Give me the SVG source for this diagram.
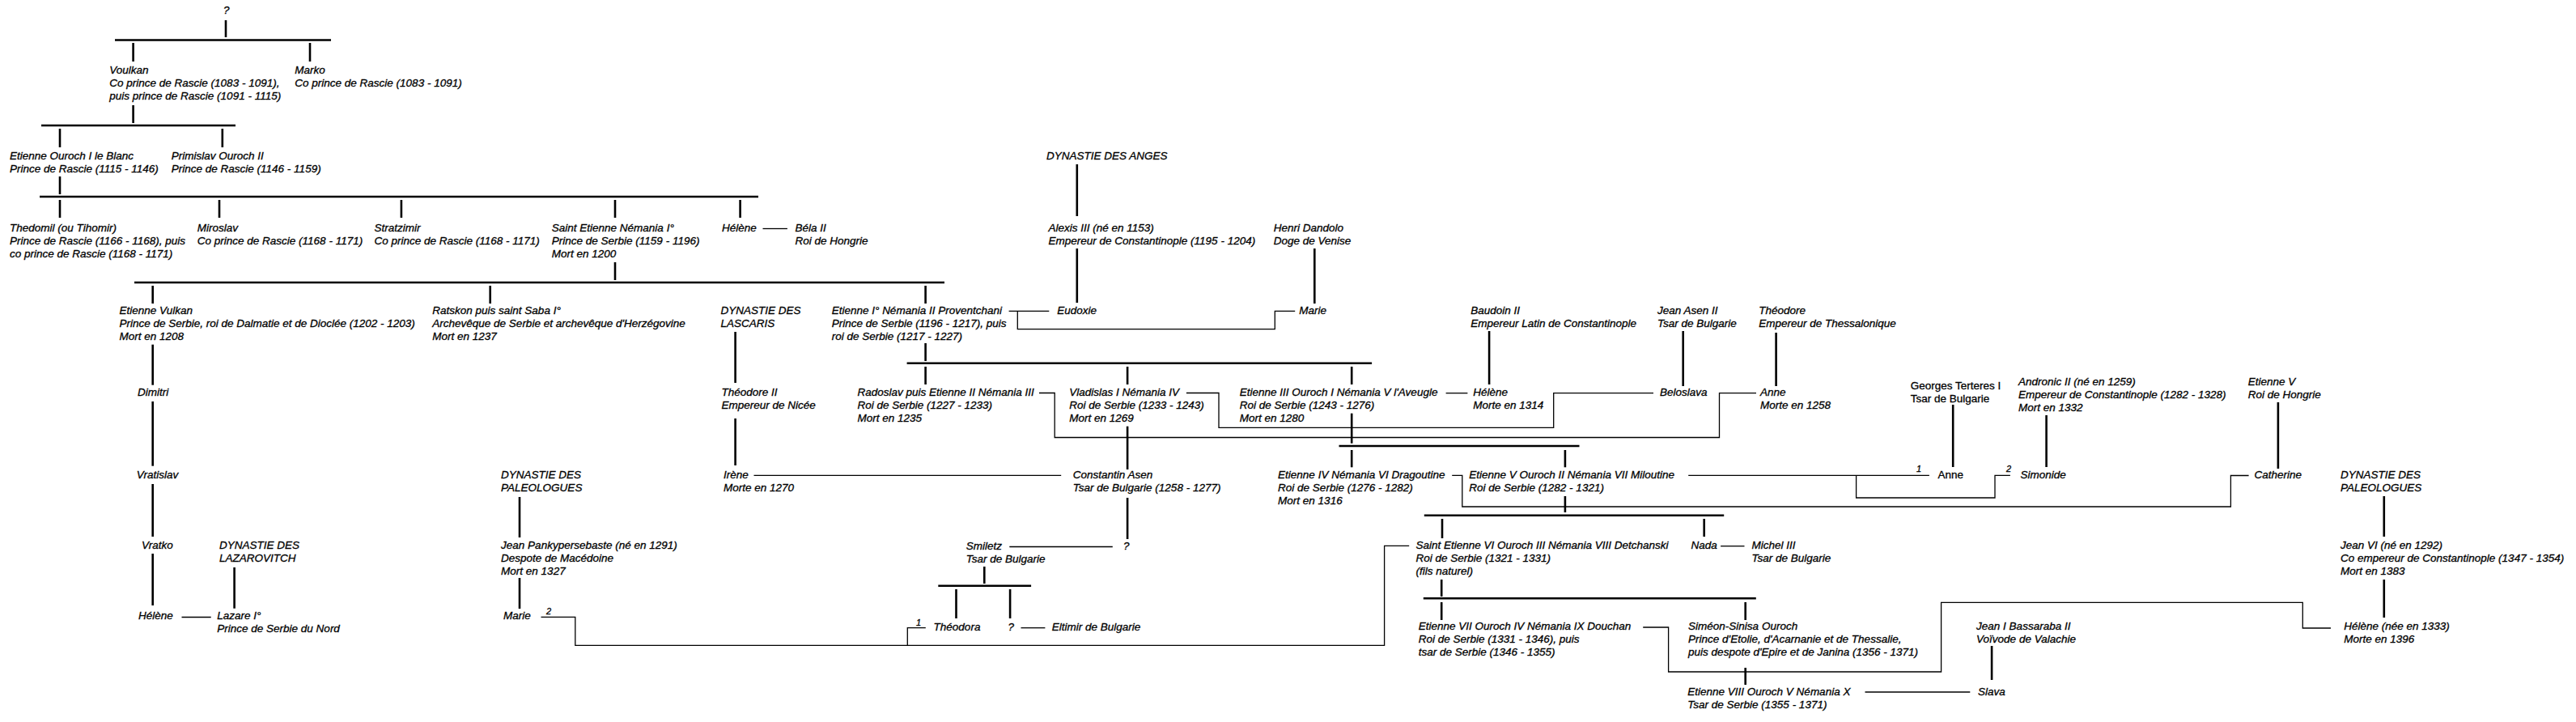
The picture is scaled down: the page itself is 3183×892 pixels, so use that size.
<svg xmlns="http://www.w3.org/2000/svg" width="3183" height="892" viewBox="0 0 3183 892">
<style>
text{font-family:"Liberation Sans",Arial,sans-serif;font-size:13.5px;font-style:italic;fill:#000;stroke:#000;stroke-width:0.3}
text.u{font-style:normal}
text.s{font-size:11px}
.tree line{stroke:#000;stroke-width:2.6}
.mar path,.mar line{stroke:#000;stroke-width:1.3;fill:none}
</style>
<rect width="3183" height="892" fill="#fff"/>
<g id="connectors">
<g class="tree">
<line x1="279" y1="25" x2="279" y2="46"/>
<line x1="142" y1="49.5" x2="409" y2="49.5"/>
<line x1="164.6" y1="53" x2="164.6" y2="76"/>
<line x1="383" y1="53" x2="383" y2="76"/>
<line x1="164.6" y1="130" x2="164.6" y2="152"/>
<line x1="51" y1="155" x2="291" y2="155"/>
<line x1="74" y1="159" x2="74" y2="182"/>
<line x1="274.8" y1="159" x2="274.8" y2="182"/>
<line x1="74" y1="218" x2="74" y2="240"/>
<line x1="49" y1="243" x2="937" y2="243"/>
<line x1="74" y1="247" x2="74" y2="269"/>
<line x1="271" y1="247" x2="271" y2="269"/>
<line x1="495.9" y1="247" x2="495.9" y2="269"/>
<line x1="760" y1="247" x2="760" y2="269"/>
<line x1="914.6" y1="247" x2="914.6" y2="269"/>
<line x1="760" y1="324" x2="760" y2="346"/>
<line x1="166" y1="349" x2="1167" y2="349"/>
<line x1="188.7" y1="353" x2="188.7" y2="375"/>
<line x1="605.7" y1="353" x2="605.7" y2="375"/>
<line x1="1143.6" y1="353" x2="1143.6" y2="375"/>
<line x1="1330.8" y1="203" x2="1330.8" y2="267"/>
<line x1="1330.8" y1="307" x2="1330.8" y2="374"/>
<line x1="1624.3" y1="307" x2="1624.3" y2="375"/>
<line x1="1143.6" y1="424" x2="1143.6" y2="446"/>
<line x1="1120.6" y1="448.7" x2="1695.1" y2="448.7"/>
<line x1="1143.6" y1="453" x2="1143.6" y2="475"/>
<line x1="1393.1" y1="453" x2="1393.1" y2="475"/>
<line x1="1670.2" y1="453" x2="1670.2" y2="475"/>
<line x1="1840.1" y1="409" x2="1840.1" y2="475"/>
<line x1="2079.7" y1="409" x2="2079.7" y2="477"/>
<line x1="2194.6" y1="411" x2="2194.6" y2="477"/>
<line x1="908.6" y1="410" x2="908.6" y2="473"/>
<line x1="908.6" y1="517" x2="908.6" y2="575"/>
<line x1="1393.1" y1="526.7" x2="1393.1" y2="580"/>
<line x1="1393.1" y1="615" x2="1393.1" y2="666"/>
<line x1="1670.2" y1="510.7" x2="1670.2" y2="547.7"/>
<line x1="1654.5" y1="551" x2="1951.5" y2="551"/>
<line x1="1670.2" y1="556" x2="1670.2" y2="577.3"/>
<line x1="1933.9" y1="556" x2="1933.9" y2="577.3"/>
<line x1="2413.2" y1="500" x2="2413.2" y2="577"/>
<line x1="2528.6" y1="513" x2="2528.6" y2="577"/>
<line x1="2814.9" y1="497" x2="2814.9" y2="579"/>
<line x1="2945.8" y1="613" x2="2945.8" y2="663"/>
<line x1="2945.8" y1="716" x2="2945.8" y2="763"/>
<line x1="1933.9" y1="613" x2="1933.9" y2="633"/>
<line x1="1759.8" y1="636.7" x2="2130.2" y2="636.7"/>
<line x1="1782" y1="641" x2="1782" y2="665"/>
<line x1="2105.7" y1="641" x2="2105.7" y2="663"/>
<line x1="1781.2" y1="716" x2="1781.2" y2="737"/>
<line x1="1758.8" y1="739.3" x2="2169.8" y2="739.3"/>
<line x1="1781.2" y1="744" x2="1781.2" y2="766"/>
<line x1="2156.7" y1="744" x2="2156.7" y2="766"/>
<line x1="2156.7" y1="825" x2="2156.7" y2="846"/>
<line x1="2461.1" y1="798" x2="2461.1" y2="840"/>
<line x1="642" y1="614" x2="642" y2="664"/>
<line x1="642" y1="714" x2="642" y2="752"/>
<line x1="1216.3" y1="700" x2="1216.3" y2="721"/>
<line x1="1159.3" y1="723.7" x2="1274.1" y2="723.7"/>
<line x1="1181.5" y1="728" x2="1181.5" y2="764"/>
<line x1="1248.1" y1="728" x2="1248.1" y2="764"/>
<line x1="188.7" y1="425.7" x2="188.7" y2="475.7"/>
<line x1="188.7" y1="496" x2="188.7" y2="575.7"/>
<line x1="188.7" y1="598" x2="188.7" y2="663"/>
<line x1="188.7" y1="684" x2="188.7" y2="748"/>
<line x1="289.6" y1="701" x2="289.6" y2="751.7"/>
</g>
<g class="mar">
<line x1="942.5" y1="282.5" x2="972.9" y2="282.5"/>
<line x1="1246.6" y1="384.3" x2="1296.3" y2="384.3"/>
<path d="M1257.3 384.3V406.7H1575.3V384.3H1600.2"/>
<line x1="1786.6" y1="485.7" x2="1813.4" y2="485.7"/>
<path d="M1465.9 485.5H1506V528.3H1919.7V485.7H2043"/>
<path d="M1284 485.5H1303.2V540.5H2124.5V485.7H2170"/>
<line x1="931.5" y1="587.3" x2="1311.2" y2="587.3"/>
<line x1="1247.3" y1="675.5" x2="1374.8" y2="675.5"/>
<path d="M1794.2 587.3H1806.8V626H2756.4V587.5H2778.6"/>
<line x1="2086.2" y1="587.3" x2="2383.9" y2="587.3"/>
<path d="M2293.6 587.3V615H2465V587.3H2483.9"/>
<line x1="2126.1" y1="674.7" x2="2155.5" y2="674.7"/>
<path d="M2030.2 775H2061.6V830H2398.6V744.3H2845.3V776H2880"/>
<line x1="2304.5" y1="855" x2="2434.3" y2="855"/>
<path d="M668.5 762.3H710.8V797.3H1710.6V674.3H1741.2"/>
<path d="M1121.3 797.3V775.7H1143.8"/>
<line x1="1261.5" y1="775.7" x2="1291.4" y2="775.7"/>
<line x1="224.5" y1="762.5" x2="260.7" y2="762.5"/>
</g>
<text class="s" x="2368" y="583">1</text>
<text class="s" x="2479" y="583">2</text>
<text class="s" x="675" y="759">2</text>
<text class="s" x="1132" y="772.5">1</text>
</g>
<g id="n_root"><text x="276" y="17">?</text></g>
<g id="n_voulkan"><text x="135.3" y="91">Voulkan<tspan x="135.3" dy="16">Co prince de Rascie (1083 - 1091),</tspan><tspan x="135.3" dy="16">puis prince de Rascie (1091 - 1115)</tspan></text></g>
<g id="n_marko"><text x="364.3" y="91">Marko<tspan x="364.3" dy="16">Co prince de Rascie (1083 - 1091)</tspan></text></g>
<g id="n_etienne_ouroch1"><text x="12" y="197">Etienne Ouroch I le Blanc<tspan x="12" dy="16">Prince de Rascie (1115 - 1146)</tspan></text></g>
<g id="n_primislav"><text x="211.8" y="197">Primislav Ouroch II<tspan x="211.8" dy="16">Prince de Rascie (1146 - 1159)</tspan></text></g>
<g id="n_thedomil"><text x="12" y="286">Thedomil (ou Tihomir)<tspan x="12" dy="16">Prince de Rascie (1166 - 1168), puis</tspan><tspan x="12" dy="16">co prince de Rascie (1168 - 1171)</tspan></text></g>
<g id="n_miroslav"><text x="243.8" y="286">Miroslav<tspan x="243.8" dy="16">Co prince de Rascie (1168 - 1171)</tspan></text></g>
<g id="n_stratzimir"><text x="462.5" y="286">Stratzimir<tspan x="462.5" dy="16">Co prince de Rascie (1168 - 1171)</tspan></text></g>
<g id="n_saint_etienne"><text x="681.8" y="286">Saint Etienne Némania I°<tspan x="681.8" dy="16">Prince de Serbie (1159 - 1196)</tspan><tspan x="681.8" dy="16">Mort en 1200</tspan></text></g>
<g id="n_helene1"><text x="892" y="286">Hélène</text></g>
<g id="n_bela"><text x="982.5" y="286">Béla II<tspan x="982.5" dy="16">Roi de Hongrie</tspan></text></g>
<g id="n_anges"><text x="1292.9" y="197">DYNASTIE DES ANGES</text></g>
<g id="n_alexis"><text x="1295.5" y="286">Alexis III (né en 1153)<tspan x="1295.5" dy="16">Empereur de Constantinople (1195 - 1204)</tspan></text></g>
<g id="n_dandolo"><text x="1573.8" y="286">Henri Dandolo<tspan x="1573.8" dy="16">Doge de Venise</tspan></text></g>
<g id="n_vulkan"><text x="147.4" y="388">Etienne Vulkan<tspan x="147.4" dy="16">Prince de Serbie, roi de Dalmatie et de Dioclée (1202 - 1203)</tspan><tspan x="147.4" dy="16">Mort en 1208</tspan></text></g>
<g id="n_ratskon"><text x="534.3" y="388">Ratskon puis saint Saba I°<tspan x="534.3" dy="16">Archevêque de Serbie et archevêque d'Herzégovine</tspan><tspan x="534.3" dy="16">Mort en 1237</tspan></text></g>
<g id="n_lascaris"><text x="890.4" y="388">DYNASTIE DES<tspan x="890.4" dy="16">LASCARIS</tspan></text></g>
<g id="n_etienne1"><text x="1027.7" y="388">Etienne I° Némania II Proventchani<tspan x="1027.7" dy="16">Prince de Serbie (1196 - 1217), puis</tspan><tspan x="1027.7" dy="16">roi de Serbie (1217 - 1227)</tspan></text></g>
<g id="n_eudoxie"><text x="1306.3" y="388">Eudoxie</text></g>
<g id="n_marie1"><text x="1605.2" y="388">Marie</text></g>
<g id="n_baudoin"><text x="1817.2" y="388">Baudoin II<tspan x="1817.2" dy="16">Empereur Latin de Constantinople</tspan></text></g>
<g id="n_jean_asen"><text x="2048" y="388">Jean Asen II<tspan x="2048" dy="16">Tsar de Bulgarie</tspan></text></g>
<g id="n_theodore"><text x="2173.2" y="388">Théodore<tspan x="2173.2" dy="16">Empereur de Thessalonique</tspan></text></g>
<g id="n_dimitri"><text x="170.1" y="489">Dimitri</text></g>
<g id="n_theodore2"><text x="891.4" y="489">Théodore II<tspan x="891.4" dy="16">Empereur de Nicée</tspan></text></g>
<g id="n_radoslav"><text x="1059.4" y="489">Radoslav puis Etienne II Némania III<tspan x="1059.4" dy="16">Roi de Serbie (1227 - 1233)</tspan><tspan x="1059.4" dy="16">Mort en 1235</tspan></text></g>
<g id="n_vladislas"><text x="1321.2" y="489">Vladislas I Némania IV<tspan x="1321.2" dy="16">Roi de Serbie (1233 - 1243)</tspan><tspan x="1321.2" dy="16">Mort en 1269</tspan></text></g>
<g id="n_etienne3"><text x="1531.7" y="489">Etienne III Ouroch I Némania V l'Aveugle<tspan x="1531.7" dy="16">Roi de Serbie (1243 - 1276)</tspan><tspan x="1531.7" dy="16">Mort en 1280</tspan></text></g>
<g id="n_helene2"><text x="1820.2" y="489">Hélène<tspan x="1820.2" dy="16">Morte en 1314</tspan></text></g>
<g id="n_beloslava"><text x="2051" y="489">Beloslava</text></g>
<g id="n_anne1"><text x="2175" y="489">Anne<tspan x="2175" dy="16">Morte en 1258</tspan></text></g>
<g id="n_georges"><text class="u" x="2360.7" y="481">Georges Terteres I<tspan x="2360.7" dy="16">Tsar de Bulgarie</tspan></text></g>
<g id="n_andronic"><text x="2493.9" y="476">Andronic II (né en 1259)<tspan x="2493.9" dy="16">Empereur de Constantinople (1282 - 1328)</tspan><tspan x="2493.9" dy="16">Mort en 1332</tspan></text></g>
<g id="n_etienne5h"><text x="2777.8" y="476">Etienne V<tspan x="2777.8" dy="16">Roi de Hongrie</tspan></text></g>
<g id="n_vratislav"><text x="168.7" y="591">Vratislav</text></g>
<g id="n_paleo1"><text x="619.1" y="591">DYNASTIE DES<tspan x="619.1" dy="16">PALEOLOGUES</tspan></text></g>
<g id="n_irene"><text x="893.9" y="591">Irène<tspan x="893.9" dy="16">Morte en 1270</tspan></text></g>
<g id="n_constantin"><text x="1325.8" y="591">Constantin Asen<tspan x="1325.8" dy="16">Tsar de Bulgarie (1258 - 1277)</tspan></text></g>
<g id="n_dragoutine"><text x="1579.1" y="591">Etienne IV Némania VI Dragoutine<tspan x="1579.1" dy="16">Roi de Serbie (1276 - 1282)</tspan><tspan x="1579.1" dy="16">Mort en 1316</tspan></text></g>
<g id="n_miloutine"><text x="1815.3" y="591">Etienne V Ouroch II Némania VII Miloutine<tspan x="1815.3" dy="16">Roi de Serbie (1282 - 1321)</tspan></text></g>
<g id="n_anne2"><text class="u" x="2394.6" y="591">Anne</text></g>
<g id="n_simonide"><text x="2496.4" y="591">Simonide</text></g>
<g id="n_catherine"><text x="2785.4" y="591">Catherine</text></g>
<g id="n_paleo2"><text x="2892" y="591">DYNASTIE DES<tspan x="2892" dy="16">PALEOLOGUES</tspan></text></g>
<g id="n_vratko"><text x="175" y="678">Vratko</text></g>
<g id="n_lazarovitch"><text x="271" y="678">DYNASTIE DES<tspan x="271" dy="16">LAZAROVITCH</tspan></text></g>
<g id="n_pankypersebaste"><text x="619.1" y="678">Jean Pankypersebaste (né en 1291)<tspan x="619.1" dy="16">Despote de Macédoine</tspan><tspan x="619.1" dy="16">Mort en 1327</tspan></text></g>
<g id="n_smiletz"><text x="1193.8" y="679">Smiletz<tspan x="1193.8" dy="16">Tsar de Bulgarie</tspan></text></g>
<g id="n_q2"><text x="1388" y="679">?</text></g>
<g id="n_etienne6"><text x="1749.4" y="678">Saint Etienne VI Ouroch III Némania VIII Detchanski<tspan x="1749.4" dy="16">Roi de Serbie (1321 - 1331)</tspan><tspan x="1749.4" dy="16">(fils naturel)</tspan></text></g>
<g id="n_nada"><text x="2089.4" y="678">Nada</text></g>
<g id="n_michel"><text x="2164.5" y="678">Michel III<tspan x="2164.5" dy="16">Tsar de Bulgarie</tspan></text></g>
<g id="n_jean6"><text x="2892" y="678">Jean VI (né en 1292)<tspan x="2892" dy="16">Co empereur de Constantinople (1347 - 1354)</tspan><tspan x="2892" dy="16">Mort en 1383</tspan></text></g>
<g id="n_helene3"><text x="171.1" y="765">Hélène</text></g>
<g id="n_lazare"><text x="268.3" y="765">Lazare I°<tspan x="268.3" dy="16">Prince de Serbie du Nord</tspan></text></g>
<g id="n_marie2"><text x="621.9" y="765">Marie</text></g>
<g id="n_theodora"><text x="1153.6" y="779">Théodora</text></g>
<g id="n_q3"><text x="1245.4" y="779">?</text></g>
<g id="n_eltimir"><text x="1299.8" y="779">Eltimir de Bulgarie</text></g>
<g id="n_douchan"><text x="1752.7" y="778">Etienne VII Ouroch IV Némania IX Douchan<tspan x="1752.7" dy="16">Roi de Serbie (1331 - 1346), puis</tspan><tspan x="1752.7" dy="16">tsar de Serbie (1346 - 1355)</tspan></text></g>
<g id="n_simeon"><text x="2086.1" y="778">Siméon-Sinisa Ouroch<tspan x="2086.1" dy="16">Prince d'Etolie, d'Acarnanie et de Thessalie,</tspan><tspan x="2086.1" dy="16">puis despote d'Epire et de Janina (1356 - 1371)</tspan></text></g>
<g id="n_bassaraba"><text x="2442.1" y="778">Jean I Bassaraba II<tspan x="2442.1" dy="16">Voïvode de Valachie</tspan></text></g>
<g id="n_helene4"><text x="2896.2" y="778">Hélène (née en 1333)<tspan x="2896.2" dy="16">Morte en 1396</tspan></text></g>
<g id="n_etienne8"><text x="2085.3" y="859">Etienne VIII Ouroch V Némania X<tspan x="2085.3" dy="16">Tsar de Serbie (1355 - 1371)</tspan></text></g>
<g id="n_slava"><text x="2443.9" y="859">Slava</text></g>
</svg>
